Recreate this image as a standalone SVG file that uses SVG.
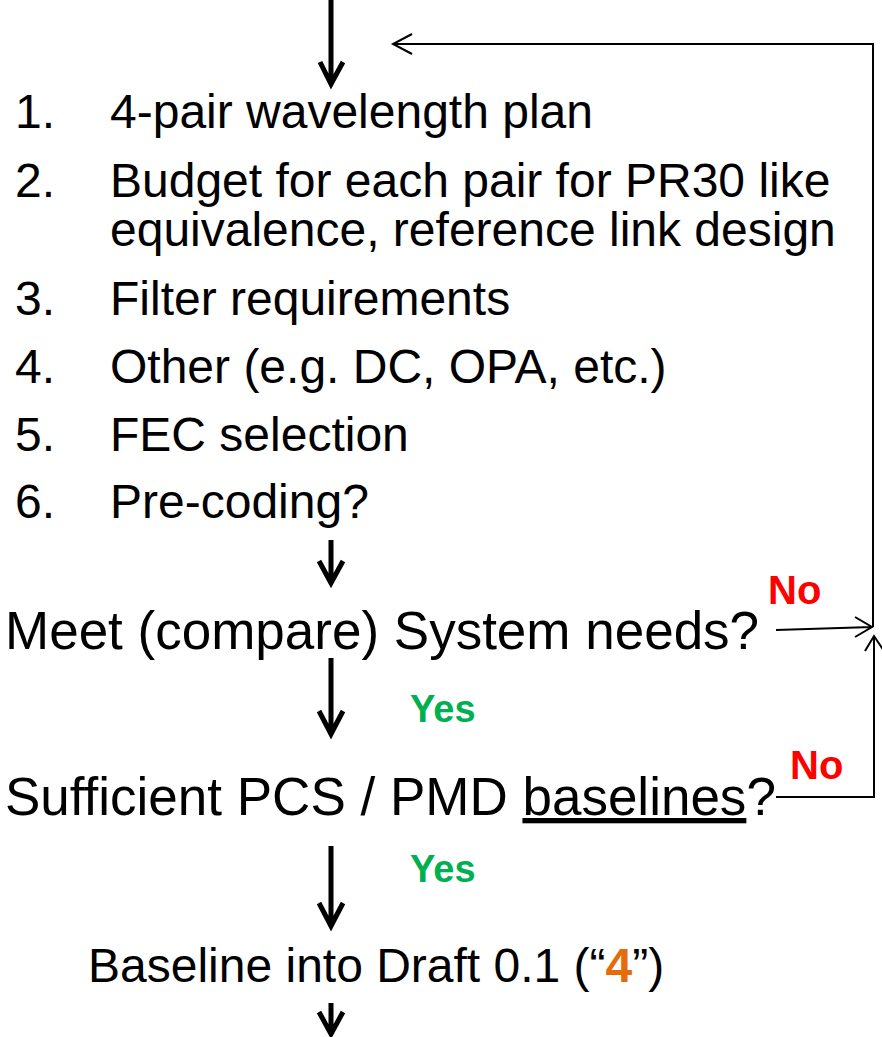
<svg xmlns="http://www.w3.org/2000/svg" width="882" height="1037" viewBox="0 0 882 1037">
<style>
.t{font-family:"Liberation Sans",Arial,sans-serif;fill:#000}
.l{font-size:48px}
.q{font-size:53px}
.yes{font-family:"Liberation Sans",Arial,sans-serif;font-weight:bold;font-size:38px;fill:#00B050}
.no{font-family:"Liberation Sans",Arial,sans-serif;font-weight:bold;font-size:40px;fill:#FF0000}
.big{fill:none;stroke:#000;stroke-width:5}
.thin{fill:none;stroke:#000;stroke-width:2}
</style>
<rect width="882" height="1037" fill="#fff"/>
<g id="connectors">
<path class="big" d="M331,0 V84 M320,62 L331,84 L343,62"/>
<path class="big" d="M331,540 V583 M319,561 L331,583 L343,561"/>
<path class="big" d="M331,658 V734 M319,711 L331,734 L343,711"/>
<path class="big" d="M331,846 V926 M319,903 L331,926 L343,903"/>
<path class="big" d="M331,1003 V1034 M319,1012 L331,1034 L343,1012"/>
<path class="thin" d="M873,627 V44 H393 M412,34 L393,44 L412,54"/>
<path class="thin" d="M776,630 L872,627 M855,617 L872,627 L855,637"/>
<path class="thin" d="M776,797 H874 V636 M865,651 L874,636 L884,651"/>
</g>
<g id="list">
<text class="t l" x="15" y="128">1.</text><text class="t l" x="110" y="128">4-pair wavelength plan</text>
<text class="t l" x="15" y="197">2.</text><text class="t l" x="110" y="197">Budget for each pair for PR30 like</text>
<text class="t l" x="110" y="246">equivalence, reference link design</text>
<text class="t l" x="15" y="315">3.</text><text class="t l" x="110" y="315">Filter requirements</text>
<text class="t l" x="15" y="383">4.</text><text class="t l" x="110" y="383">Other (e.g. DC, OPA, etc.)</text>
<text class="t l" x="15" y="451">5.</text><text class="t l" x="110" y="451">FEC selection</text>
<text class="t l" x="15" y="518">6.</text><text class="t l" x="110" y="518">Pre-coding?</text>
</g>
<g id="meet">
<text class="t q" x="5" y="649">Meet (compare) System needs?</text>
<text class="no" x="768" y="604">No</text>
<text class="yes" x="410" y="722">Yes</text>
</g>
<g id="sufficient">
<text class="t q" x="5" y="815">Sufficient PCS / PMD <tspan text-decoration="underline">baselines</tspan>?</text>
<text class="no" x="790" y="779">No</text>
<text class="yes" x="410" y="882">Yes</text>
</g>
<g id="baseline">
<text class="t l" x="88" y="982">Baseline into Draft 0.1 (“<tspan font-weight="bold" fill="#E46C0A">4</tspan>”)</text>
</g>
</svg>
